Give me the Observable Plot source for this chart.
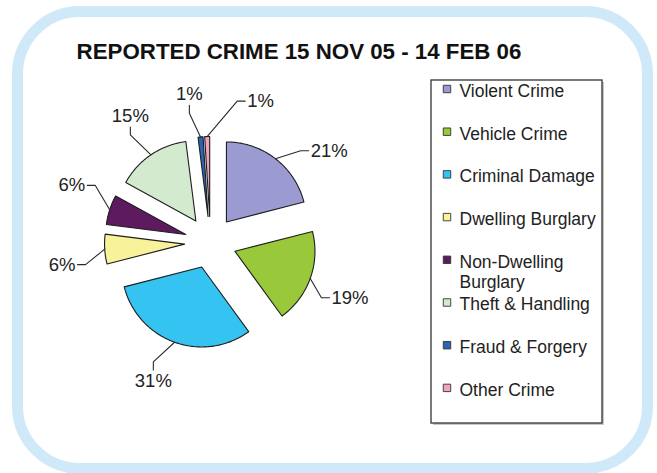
<!DOCTYPE html>
<html>
<head>
<meta charset="utf-8">
<script src="https://cdn.jsdelivr.net/npm/d3@7"></script>
<script src="https://cdn.jsdelivr.net/npm/@observablehq/plot@0.6"></script>
<style>
  html, body { margin: 0; padding: 0; background: #fff; }
  #wrap { position: relative; width: 657px; height: 473px; overflow: hidden; }
  #border { position: absolute; left: 12px; top: 6px; width: 641px; height: 468px; box-sizing: border-box;
            border: 11px solid #d0e9f9; border-radius: 68px; pointer-events: none; }
  #chart { position: absolute; left: 0; top: 0; }
</style>
</head>
<body>
<div id="wrap"><div id="chart"></div><div id="border"></div></div>
<script>
// ---- data ----
const title = "REPORTED CRIME 15 NOV 05 - 14 FEB 06";
const categories = ["Violent Crime", "Vehicle Crime", "Criminal Damage", "Dwelling Burglary",
                    "Non-Dwelling Burglary", "Theft & Handling", "Fraud & Forgery", "Other Crime"];
const shares = [21, 19, 31, 6, 6, 15, 1, 1];
const legendLabels = ["Violent Crime", "Vehicle Crime", "Criminal Damage", "Dwelling Burglary",
                      "Non-Dwelling\nBurglary", "Theft & Handling", "Fraud & Forgery", "Other Crime"];
const colors = ["#9b9bd1", "#99c93a", "#35c4f2", "#f8f29b", "#5e1a5e", "#d3eacf", "#2c64b4", "#f2a4bf"];

// ---- layout ----
const W = 657, H = 473;
const cx = 210, cy = 242, r = 80, explode = 26, labelR = 150;
const labelFont = 18.5;
// best-fit label placement: angular shift (degrees) from each slice's bisector
const labelNudge = {"Violent Crime": 14.5, "Vehicle Crime": 1.8, "Criminal Damage": 2.6, "Dwelling Burglary": -4.9,
                    "Non-Dwelling Burglary": 4.4, "Theft & Handling": 1.9, "Fraud & Forgery": -2.7, "Other Crime": 21.3};

const arcs = d3.pie().sort(null).value(d => d)(shares);
const rad = Math.PI / 180;

const sliceRows = [], leaderRows = [], labelRows = [];
arcs.forEach((a, i) => {
  const cat = categories[i];
  const mid = (a.startAngle + a.endAngle) / 2;
  const ux = Math.sin(mid), uy = -Math.cos(mid);
  const ax = cx + explode * ux, ay = cy + explode * uy;
  sliceRows.push({category: cat, x: ax, y: ay});
  const n = Math.max(2, Math.ceil((a.endAngle - a.startAngle) / rad));
  for (let k = 0; k <= n; k++) {
    const t = a.startAngle + (a.endAngle - a.startAngle) * k / n;
    sliceRows.push({category: cat, x: ax + r * Math.sin(t), y: ay - r * Math.cos(t)});
  }
  // label
  const la = mid + (labelNudge[cat] || 0) * rad;
  const lx = cx + labelR * Math.sin(la), ly = cy - labelR * Math.cos(la);
  const txt = shares[i] + "%";
  labelRows.push({category: cat, x: lx, y: ly, text: txt});
  // leader line
  const sx = ax + r * ux, sy = ay + r * uy;
  const hw = labelFont * (0.556 * String(shares[i]).length + 0.889) / 2, hh = labelFont * 0.5;
  const dx = lx - sx, dy = ly - sy;
  let ex, ey, bx, by;
  if (Math.abs(dx) / hw * 1.2 > Math.abs(dy) / hh) {
    const s = Math.sign(dx);
    ex = lx - s * (hw + 2); ey = ly; bx = ex - s * 8; by = ey;
  } else {
    const s = Math.sign(dy);
    ex = lx; ey = ly - s * (hh + 2); bx = ex; by = ey - s * 8;
  }
  leaderRows.push({category: cat, x: sx, y: sy}, {category: cat, x: bx, y: by}, {category: cat, x: ex, y: ey});
});

// legend
const legTop = 88.5, legStep = 42.7;
const legendRows = categories.map((c, i) => ({category: c, label: legendLabels[i], y: legTop + i * legStep}));

const chart = Plot.plot({
  width: W, height: H, margin: 0,
  x: {domain: [0, W], range: [0, W], axis: null},
  y: {domain: [0, H], range: [0, H], axis: null},
  color: {domain: categories, range: colors},
  style: {fontFamily: "'Liberation Sans', Arial, sans-serif", background: "transparent", color: "#1a1a1a"},
  marks: [
    Plot.text([title], {x: 298.5, y: 51, text: d => d, fontSize: 22.3, fontWeight: "bold", fill: "#111"}),
    Plot.line(sliceRows, {x: "x", y: "y", z: "category", fill: "category", stroke: "#1e1e1e", strokeWidth: 1.1, curve: "linear-closed"}),
    Plot.line(leaderRows, {x: "x", y: "y", z: "category", stroke: "#2a2a2a", strokeWidth: 1.1}),
    Plot.text(labelRows, {x: "x", y: "y", text: "text", fontSize: labelFont, fill: "#222"}),
    Plot.rect([0], {x1: 433, x2: 604, y1: 82, y2: 425, fill: "#c8c8c8"}),
    Plot.rect([0], {x1: 431, x2: 602, y1: 80, y2: 423, fill: "white", stroke: "#333", strokeWidth: 1.3}),
    Plot.dot(legendRows, {x: 446.5, y: "y", symbol: "square", r: 4.2, fill: "category", stroke: "#333", strokeWidth: 0.9}),
    Plot.text(legendRows, {x: 459, y: d => d.y - 6.3, text: "label", textAnchor: "start", lineAnchor: "top",
                            fontSize: 17.5, lineHeight: 1.15, fill: "#222"})
  ]
});
document.getElementById("chart").appendChild(chart);
</script>
</body>
</html>
